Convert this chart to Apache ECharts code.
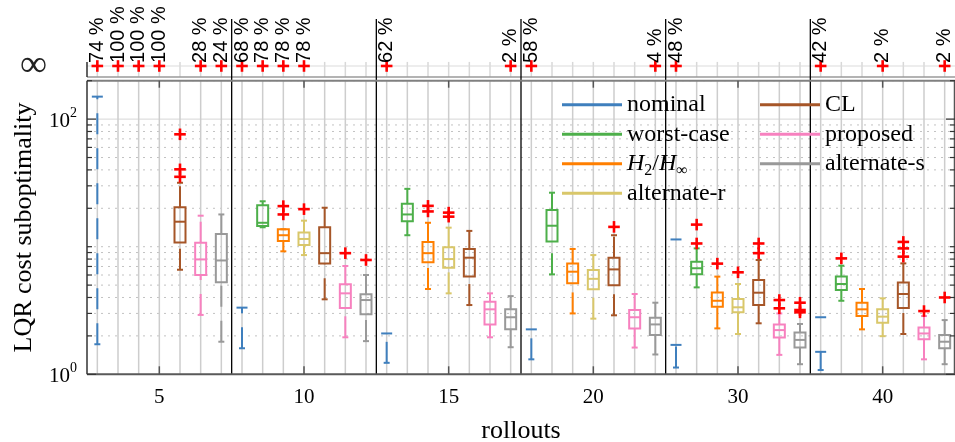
<!DOCTYPE html>
<html><head><meta charset="utf-8">
<script src="https://cdn.jsdelivr.net/npm/echarts@6/dist/echarts.min.js"></script>
<style>html,body{margin:0;padding:0;background:#fff}#c{width:955px;height:442px}</style>
</head><body><div id="c"></div>
<script>
// ---------------- data ----------------
const groups = ['5', '10', '15', '20', '30', '40'];              // rollouts
const methods = ['nominal', 'worst-case', 'H2/H∞', 'alternate-r', 'CL', 'proposed', 'alternate-s'];
const methodColors = ['#3f7fbd', '#4daf4a', '#ff7f00', '#d9c76a', '#a65628', '#f781bf', '#999999'];

// box statistics per group: [lowerWhisker, q1, median, q3, upperWhisker]; null = infinite / not drawn
const nominal = [
  [1.72, 150, null, null, null],
  [1.6, 3.33, null, null, null],
  [1.23, 2.09, null, null, null],
  [1.31, 2.25, null, null, null],
  [1.13, 1.7, 11.4, null, null],
  [1.08, 1.5, 2.8, null, null]
];
const worstCase = [
  null,
  [14.2, 14.5, 15.4, 21.1, 22.7],
  [12.3, 15.8, 17.9, 21.7, 28.4],
  [6.07, 11.0, 14.6, 19.4, 26.5],
  [4.8, 6.07, 6.78, 7.63, 9.7],
  [3.77, 4.58, 5.1, 5.83, 7.1]
];
const h2hinf = [
  null,
  [9.2, 11.1, 12.3, 13.7, 13.7],
  [4.66, 7.54, 8.9, 10.9, 15.4],
  [3.0, 5.16, 6.37, 7.4, 9.6],
  [2.29, 3.39, 3.77, 4.38, 5.83],
  [2.25, 2.86, 3.23, 3.64, 4.66]
];
const alternateR = [
  null,
  [8.6, 10.3, 11.5, 12.9, 16.0],
  [4.31, 6.85, 8.0, 9.9, 14.1],
  [2.73, 4.64, 5.6, 6.56, 8.6],
  [2.07, 3.06, 3.35, 3.89, 5.1],
  [1.99, 2.54, 2.83, 3.23, 3.94]
];
const cl = [
  [6.6, 10.8, 15.7, 20.4, 31.7],
  [3.87, 7.4, 8.9, 14.2, 20.2],
  [3.49, 5.83, 8.2, 9.6, 13.3],
  [2.9, 4.98, 6.64, 8.2, 12.3],
  [2.51, 3.49, 4.36, 5.48, 7.87],
  [2.07, 3.31, 4.26, 5.23, 7.4]
];
const proposed = [
  [2.92, 6.0, 7.95, 10.75, 17.5],
  [1.95, 3.31, 4.31, 5.07, 7.06],
  [1.95, 2.46, 3.23, 3.7, 4.31],
  [1.62, 2.29, 2.8, 3.19, 4.26],
  [1.42, 1.94, 2.22, 2.46, 3.0],
  [1.31, 1.88, 2.09, 2.33, 2.86]
];
const alternateS = [
  [1.8, 5.27, 7.8, 12.6, 17.9],
  [1.82, 2.95, 3.82, 4.24, 6.0],
  [1.63, 2.25, 2.8, 3.23, 4.1],
  [1.43, 2.03, 2.46, 2.78, 3.64],
  [1.2, 1.62, 1.86, 2.13, 2.48],
  [1.2, 1.6, 1.8, 2.03, 2.66]
];
// outliers per group
const outNominal = [[], [], [], [], [], []];
const outWorstCase = [[], [], [], [], [14.9, 10.6], [8.1]];
const outH2hinf = [[], [20.8, 17.9], [20.9, 18.9], [], [7.37], []];
const outAlternateR = [[], [19.7], [18.5, 17.2], [], [6.3], []];
const outCl = [[76, 40.4, 35.3], [], [], [14.3], [10.6, 8.9], [10.9, 9.7, 8.36]];
const outProposed = [[], [8.9], [], [], [3.82, 3.29], [3.13]];
const outAlternateS = [[], [7.87], [], [], [3.64, 3.19, 3.06], [4.0]];
// percentage of infinite cost per group (null = none)
const infNominal = [74, 68, 62, 58, 48, 42];
const infWorstCase = [100, 78, null, null, null, null];
const infH2hinf = [100, 78, null, null, null, null];
const infAlternateR = [100, 78, null, null, null, 2];
const infCl = [null, null, null, null, null, null];
const infProposed = [28, null, null, null, null, null];
const infAlternateS = [24, null, 2, 4, null, 2];
// axis ticks
const yMajorTicks = [1, 100];
const yLabelExponents = [0, 2];
const yMinorTicks = [2, 3, 4, 5, 6, 7, 8, 9, 10, 20, 30, 40, 50, 60, 70, 80, 90, 200];

// ---------------- derived ----------------
const boxes = [nominal, worstCase, h2hinf, alternateR, cl, proposed, alternateS];
const outs = [outNominal, outWorstCase, outH2hinf, outAlternateR, outCl, outProposed, outAlternateS];
const infs = [infNominal, infWorstCase, infH2hinf, infAlternateR, infCl, infProposed, infAlternateS];
const NM = methods.length;
const slotOf = (gi, m) => gi * NM + m + 1;
const groupCenters = groups.map((g, gi) => gi * NM + (NM + 1) / 2);
const boundaries = groups.slice(1).map((g, i) => (i + 1) * NM + 0.5);
const slots = []; for (let s = 1; s <= groups.length * NM; s++) slots.push(s);
const XMIN = 0.5, XMAX = groups.length * NM + 0.5, YMIN = 1, YMAX = 200;
const INF_LEVEL = 0.19, PANEL_TOP = 0.26;

const SERIF = '"Liberation Serif", "DejaVu Serif", serif';
const SANS = '"Liberation Sans", Arial, sans-serif';
const BOX_HW = 5.5, CAP_HW = 3, PLUS = 5.8;
const DASH = [21, 14];

function ln(x1, y1, x2, y2, stroke, lw, dash) {
  return {type: 'line', shape: {x1, y1, x2, y2}, style: {stroke, lineWidth: lw, lineDash: dash || null, fill: null}};
}

function boxSeries(m) {
  return {
    type: 'custom', name: methods[m], xAxisIndex: 0, yAxisIndex: 0, z: 5, silent: true,
    itemStyle: {color: methodColors[m]},
    data: groups.map((g, gi) => [slotOf(gi, m), 1, gi]),
    encode: {x: 0, y: 1},
    renderItem(params, api) {
      const gi = api.value(2), b = boxes[m][gi];
      if (!b) return null;
      const slot = api.value(0);
      const cx = api.coord([slot, 1])[0];
      const Y = v => api.coord([slot, v])[1];
      const col = methodColors[m];
      const [lo, q1, med, q3, hi] = b;
      const ch = [];
      if (lo != null && q1 != null) {
        ch.push(ln(cx, Y(lo), cx, Y(q1), col, 2, DASH));
        ch.push(ln(cx - CAP_HW, Y(lo), cx + CAP_HW, Y(lo), col, 2));
      }
      if (q3 != null && hi != null) {
        ch.push(ln(cx, Y(q3), cx, Y(hi), col, 2, DASH));
        ch.push(ln(cx - CAP_HW, Y(hi), cx + CAP_HW, Y(hi), col, 2));
      }
      if (q1 != null && q3 != null) {
        ch.push({type: 'rect', shape: {x: cx - BOX_HW, y: Y(q3), width: 2 * BOX_HW, height: Y(q1) - Y(q3)},
          style: {stroke: col, lineWidth: 2, fill: null}});
      } else if (q1 != null) {
        ch.push(ln(cx - BOX_HW, Y(q1), cx + BOX_HW, Y(q1), col, 2));
      }
      if (med != null) ch.push(ln(cx - BOX_HW, Y(med), cx + BOX_HW, Y(med), col, 2));
      return {type: 'group', children: ch};
    }
  };
}

const outlierData = [];
outs.forEach((arr, m) => arr.forEach((list, gi) => list.forEach(v => outlierData.push([slotOf(gi, m), v]))));
const infData = [];
infs.forEach((arr, m) => arr.forEach((p, gi) => { if (p != null) infData.push([slotOf(gi, m), INF_LEVEL, p]); }));

function plusShape(p) {
  return [ln(p[0] - PLUS, p[1], p[0] + PLUS, p[1], '#ff0000', 2.6), ln(p[0], p[1] - PLUS, p[0], p[1] + PLUS, '#ff0000', 2.6)];
}

const series = [];
// main-grid background grid lines
series.push({
  type: 'custom', xAxisIndex: 0, yAxisIndex: 0, z: 1, silent: true,
  data: [[XMIN, YMIN]], encode: {x: 0, y: 1},
  renderItem(params, api) {
    const ch = [];
    const x0 = api.coord([XMIN, 1])[0], x1 = api.coord([XMAX, 1])[0];
    const yb = api.coord([XMIN, YMIN])[1], yt = api.coord([XMIN, YMAX])[1];
    yMinorTicks.forEach(v => { const y = api.coord([XMIN, v])[1]; ch.push(ln(x0, y, x1, y, '#c2c2c2', 1, [2, 5])); });
    yMajorTicks.forEach(v => { const y = api.coord([XMIN, v])[1]; ch.push(ln(x0, y, x1, y, '#d6d6d6', 1)); });
    slots.forEach(s => { const x = api.coord([s, 1])[0]; ch.push(ln(x, yb, x, yt, '#cdcdcd', 1.5)); });
    return {type: 'group', children: ch};
  }
});
// main-grid group separators
series.push({
  type: 'custom', xAxisIndex: 0, yAxisIndex: 0, z: 3, silent: true,
  data: boundaries.map(b => [b, YMIN]), encode: {x: 0, y: 1},
  renderItem(params, api) {
    const x = api.coord([api.value(0), 1])[0];
    return ln(x, api.coord([XMIN, YMIN])[1], x, api.coord([XMIN, YMAX])[1], '#000', 1.3);
  }
});
for (let m = 0; m < NM; m++) series.push(boxSeries(m));
// outliers
series.push({
  type: 'custom', xAxisIndex: 0, yAxisIndex: 0, z: 6, silent: true,
  data: outlierData, encode: {x: 0, y: 1},
  renderItem(params, api) {
    return {type: 'group', children: plusShape(api.coord([api.value(0), api.value(1)]))};
  }
});
// frame: axes lines and ticks
series.push({
  type: 'custom', xAxisIndex: 0, yAxisIndex: 0, z: 7, silent: true,
  data: [[XMIN, YMIN]], encode: {x: 0, y: 1},
  renderItem(params, api) {
    const ch = [];
    const x0 = api.coord([XMIN, 1])[0], x1 = api.coord([XMAX, 1])[0];
    const yb = api.coord([XMIN, YMIN])[1], yt = api.coord([XMIN, YMAX])[1];
    ch.push(ln(x0, yt, x1, yt, '#808080', 2));
    ch.push(ln(x0, yb, x1, yb, '#5a5a5a', 2));
    ch.push(ln(x0, yb, x0, yt, '#333', 1.5));
    ch.push(ln(x1 - 0.5, yb, x1 - 0.5, yt, '#555', 1.5));
    yMinorTicks.forEach(v => { const y = api.coord([XMIN, v])[1]; ch.push(ln(x0, y, x0 + 5, y, '#333', 1.2)); ch.push(ln(x1, y, x1 - 5, y, '#333', 1.2)); });
    yMajorTicks.forEach(v => { const y = api.coord([XMIN, v])[1]; ch.push(ln(x0, y, x0 + 9, y, '#333', 1.2)); ch.push(ln(x1, y, x1 - 9, y, '#333', 1.2)); });
    groupCenters.forEach(c => { const x = api.coord([c, 1])[0]; ch.push(ln(x, yb, x, yb - 8, '#555', 1.5)); ch.push(ln(x, yt, x, yt + 7, '#555', 1.5)); });
    return {type: 'group', children: ch};
  }
});
// top "infinity" panel: background
series.push({
  type: 'custom', xAxisIndex: 1, yAxisIndex: 1, z: 1, silent: true,
  data: [[XMIN, 0]], encode: {x: 0, y: 1},
  renderItem(params, api) {
    const ch = [];
    const x0 = api.coord([XMIN, 0])[0], x1 = api.coord([XMAX, 0])[0];
    const yb = api.coord([XMIN, 0])[1], yt = api.coord([XMIN, PANEL_TOP])[1], yi = api.coord([XMIN, INF_LEVEL])[1];
    slots.forEach(s => { const x = api.coord([s, 0])[0]; ch.push(ln(x, yb, x, yt, '#d8d8d8', 1.5)); });
    ch.push(ln(x0, yi, x1, yi, '#dcdcdc', 1.2));
    ch.push(ln(x0, yb, x1, yb, '#9a9a9a', 1.6));
    ch.push(ln(x0, yb, x0, yt, '#222', 1.4));
    boundaries.forEach(b => { const x = api.coord([b, 0])[0]; ch.push(ln(x, api.coord([XMIN, 1])[1], x, api.coord([XMIN, -0.08])[1], '#000', 1.3)); });
    return {type: 'group', children: ch};
  }
});
// infinity markers with percentages
series.push({
  type: 'custom', xAxisIndex: 1, yAxisIndex: 1, z: 6, silent: true,
  data: infData, encode: {x: 0, y: 1},
  renderItem(params, api) {
    const p = api.coord([api.value(0), api.value(1)]);
    const ch = plusShape(p);
    ch.push({type: 'text', x: p[0], y: p[1] - 3, rotation: Math.PI / 2,
      style: {text: api.value(2) + ' %', align: 'left', verticalAlign: 'middle', fontSize: 20, fontFamily: SANS, fill: '#000'}});
    return {type: 'group', children: ch};
  }
});

const legendRich = {
  it: {fontFamily: SERIF, fontSize: 24, fontStyle: 'italic', color: '#000'},
  sub: {fontFamily: SERIF, fontSize: 16, color: '#000', verticalAlign: 'bottom', padding: [10, 0, 0, 0]}
};
const legendFmt = n => n === 'H2/H∞' ? '{it|H}{sub|2}/{it|H}{sub|∞}' : n;
const legendBase = {
  orient: 'vertical', top: 90, itemWidth: 60, itemHeight: 3, itemGap: 0, icon: 'rect', padding: 0,
  selectedMode: false, formatter: legendFmt,
  textStyle: {fontFamily: SERIF, fontSize: 24, color: '#000', lineHeight: 29.5, rich: legendRich}
};

const option = {
  animation: false,
  backgroundColor: '#fff',
  grid: [
    {left: 87, right: 0, top: 80.7, bottom: 67.7, outerBoundsMode: 'none', containLabel: false},
    {left: 87, right: 0, top: 19, height: 58, outerBoundsMode: 'none', containLabel: false}
  ],
  legend: [
    Object.assign({}, legendBase, {left: 562, data: methods.slice(0, 4)}),
    Object.assign({}, legendBase, {left: 760, data: methods.slice(4)})
  ],
  xAxis: [
    {gridIndex: 0, type: 'value', min: XMIN, max: XMAX,
      axisLine: {show: false}, axisTick: {show: false}, splitLine: {show: false},
      axisLabel: {customValues: groupCenters, formatter: v => groups[Math.round((v - (NM + 1) / 2) / NM)],
        fontFamily: SERIF, fontSize: 21, color: '#000', margin: 13},
      name: 'rollouts', nameLocation: 'middle', nameGap: 44,
      nameTextStyle: {fontFamily: SERIF, fontSize: 26, color: '#000'}},
    {gridIndex: 1, type: 'value', min: XMIN, max: XMAX, show: false}
  ],
  yAxis: [
    {gridIndex: 0, type: 'log', logBase: 10, min: YMIN, max: YMAX,
      axisLine: {show: false}, axisTick: {show: false}, splitLine: {show: false},
      minorTick: {show: false}, minorSplitLine: {show: false},
      axisLabel: {margin: 10, showMaxLabel: false, formatter: v => {
          const lg = Math.log10(v), e = Math.round(lg);
          return (Math.abs(lg - e) < 1e-6 && yLabelExponents.indexOf(e) >= 0) ? '{b|10}{s|' + e + '}' : '';
        },
        rich: {b: {fontFamily: SERIF, fontSize: 21, color: '#000', verticalAlign: 'bottom', lineHeight: 26},
               s: {fontFamily: SERIF, fontSize: 14, color: '#000', verticalAlign: 'top', lineHeight: 26}}},
      name: 'LQR cost suboptimality', nameLocation: 'middle', nameGap: 50, nameRotate: 90,
      nameTextStyle: {fontFamily: SERIF, fontSize: 26, color: '#000'}},
    {gridIndex: 1, type: 'value', min: 0, max: 1,
      axisLine: {show: false}, axisTick: {show: false}, splitLine: {show: false},
      axisLabel: {customValues: [INF_LEVEL], formatter: () => '∞', fontFamily: SERIF, fontSize: 38, color: '#222', margin: 40}}
  ],
  series
};
const chart = echarts.init(document.getElementById('c'), null, {renderer: 'canvas'});
chart.setOption(option);
</script></body></html>
